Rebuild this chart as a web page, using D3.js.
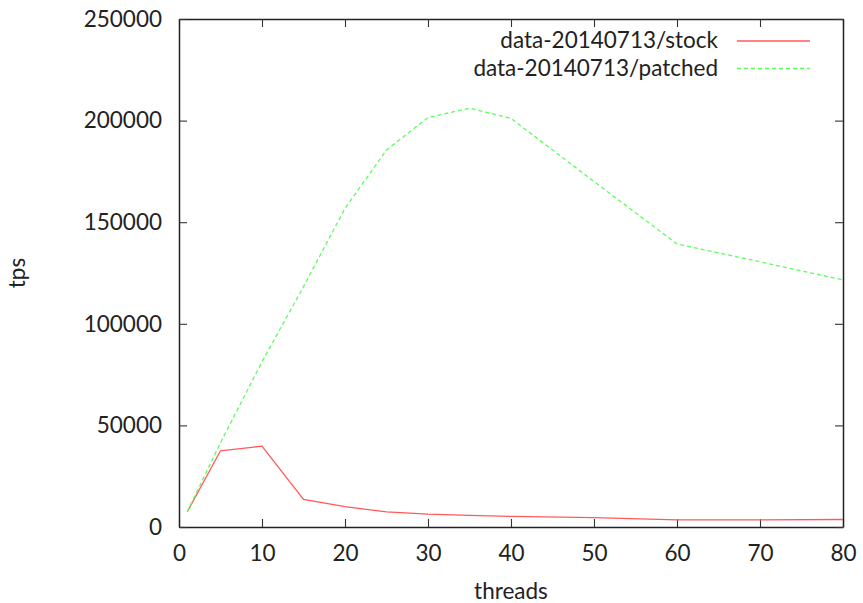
<!DOCTYPE html>
<html>
<head>
<meta charset="utf-8">
<script src="https://cdn.jsdelivr.net/npm/d3@7"></script>
<style>
  body { margin: 0; background: #fff; }
  text { font-family: Lato, "Open Sans", sans-serif; fill: #222; }
</style>
</head>
<body>
<div class="chart"></div>
<script>
const threads = [1, 5, 10, 15, 20, 25, 30, 35, 40, 50, 60, 70, 80]
const stock = [7500, 37500, 39800, 13600, 10000, 7400, 6300, 5700, 5200, 4600, 3500, 3500, 3700]
const patched = [7500, 41500, 81300, 118300, 156800, 185500, 201500, 206100, 201100, 170000, 139300, 130500, 121600]
const seriesNames = ['data-20140713/stock', 'data-20140713/patched']
const xTicks = [0, 10, 20, 30, 40, 50, 60, 70, 80]
const yTicks = [0, 50000, 100000, 150000, 200000, 250000]

const width = 863
const height = 603
const m = {top: 19, right: 20, bottom: 76, left: 179}

const svg = d3.select('.chart').append('svg')
    .attr('width', width)
    .attr('height', height)

const x = d3.scaleLinear().domain([0, 80]).range([m.left, width - m.right])
const y = d3.scaleLinear().domain([0, 250000]).range([height - m.bottom, m.top])

const fs = 22.5

// axes with inward ticks, mirrored on top and right
svg.append('g')
    .attr('transform', `translate(0,${y(0)})`)
    .call(d3.axisBottom(x).tickValues(xTicks).tickSizeInner(-8).tickSizeOuter(0).tickPadding(18))
svg.append('g')
    .attr('transform', `translate(0,${y(250000)})`)
    .call(d3.axisTop(x).tickValues(xTicks).tickSizeInner(-8).tickSizeOuter(0).tickFormat(''))
svg.append('g')
    .attr('transform', `translate(${x(0)},0)`)
    .call(d3.axisLeft(y).tickValues(yTicks).tickSizeInner(-8).tickSizeOuter(0).tickPadding(17).tickFormat(d3.format('d')))
svg.append('g')
    .attr('transform', `translate(${x(80)},0)`)
    .call(d3.axisRight(y).tickValues(yTicks).tickSizeInner(-8).tickSizeOuter(0).tickFormat(''))

svg.selectAll('.domain').attr('stroke', '#222').attr('stroke-width', 1.5)
svg.selectAll('.tick line').attr('stroke', '#333').attr('stroke-width', 1.1)
svg.selectAll('.tick text')
    .attr('font-size', fs)
    .style('font-family', 'Lato, sans-serif')
    .attr('fill', '#222')

// labels
svg.append('text')
    .attr('x', (x(0) + x(80)) / 2)
    .attr('y', 599)
    .attr('text-anchor', 'middle')
    .attr('font-size', fs)
    .text('threads')

svg.append('text')
    .attr('transform', `translate(25,${(y(0) + y(250000)) / 2}) rotate(-90)`)
    .attr('text-anchor', 'middle')
    .attr('font-size', fs)
    .text('tps')

const line = d3.line()
    .x((d, i) => x(threads[i]))
    .y(d => y(d))

svg.append('path')
    .datum(stock)
    .attr('fill', 'none')
    .attr('stroke', '#ff5a5a')
    .attr('stroke-width', 1.3)
    .attr('d', line)

svg.append('path')
    .datum(patched)
    .attr('fill', 'none')
    .attr('stroke', '#5aff5a')
    .attr('stroke-width', 1.3)
    .attr('stroke-dasharray', '4,3')
    .attr('d', line)

// legend
const legend = svg.append('g')
const legendStyle = [{color: '#ff5a5a', dash: null}, {color: '#5aff5a', dash: '4,3'}]
seriesNames.forEach((name, i) => {
    const ly = 41 + i * 27.5
    legend.append('text')
        .attr('x', 718)
        .attr('y', ly + 7)
        .attr('text-anchor', 'end')
        .attr('font-size', fs)
        .text(name)
    legend.append('line')
        .attr('x1', 737).attr('x2', 810)
        .attr('y1', ly).attr('y2', ly)
        .attr('stroke', legendStyle[i].color)
        .attr('stroke-width', 1.3)
        .attr('stroke-dasharray', legendStyle[i].dash)
})
</script>
</body>
</html>
